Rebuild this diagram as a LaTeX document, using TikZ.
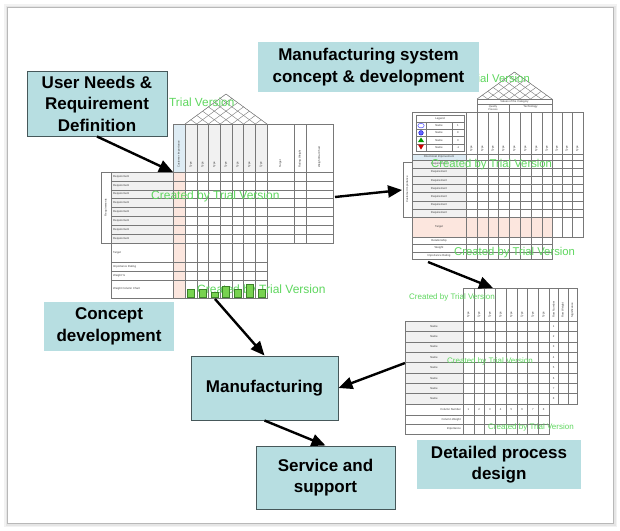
\documentclass[tikz,border=0pt]{standalone}
\usepackage{fontspec}
\setmainfont{Liberation Sans}
\usetikzlibrary{arrows.meta}

\definecolor{boxblue}{RGB}{183,222,225}
\definecolor{boxedge}{RGB}{70,88,90}
\definecolor{trialgreen}{RGB}{95,215,95}
\definecolor{pinkcell}{RGB}{252,230,222}
\definecolor{graycell}{RGB}{241,241,241}
\definecolor{headblue}{RGB}{222,236,244}
\definecolor{gridgray}{RGB}{120,120,120}
\definecolor{bargreen}{RGB}{120,210,80}
\definecolor{bardark}{RGB}{60,130,40}

\begin{document}
\begin{tikzpicture}[%
      x=1pt, y=-1pt,
      stage/.style={fill=boxblue, align=center, inner sep=0pt,
        font=\bfseries\fontsize{17}{21.5}\selectfont},
      stageedge/.style={stage, draw=boxedge, line width=1pt},
      flow/.style={-{Triangle[length=14pt,width=12pt]}, line width=2.4pt},
      cell/.style={draw=gridgray, line width=0.4pt},
      tiny/.style={inner sep=0pt, text=black!75, font=\fontsize{2.8}{3.2}\selectfont},
      vtiny/.style={tiny, rotate=90, anchor=west},
      trial/.style={inner sep=0pt, text=trialgreen},
      ]
      \useasboundingbox (0,0) rectangle (620,530);

      \fill [color=black!5] (4,4) rectangle (617,527);
      \fill [color=black!10] (5.5,5.5) rectangle (615.5,525.5);
      \filldraw [fill=white, draw=black!28, line width=0.6pt] (7,7) rectangle (613,523);

      % first house
      \begin{scope}
        \clip (185,124) -- (226,94) -- (267,124) -- cycle;
        \foreach \i in {0,...,7} {
          \draw [cell] ({185+\i*11.714},124) -- ++(82,-60);
          \draw [cell] ({185+\i*11.714},124) -- ++(-82,-60);
        }
      \end{scope}
      \draw [cell] (185,124) -- (226,94) -- (267,124);

      \fill [color=headblue] (173,124) rectangle (185,172);
      \fill [color=graycell] (185,124) rectangle (267,172);
      \fill [color=graycell] (111,172) rectangle (173,243);
      \fill [color=pinkcell] (173,172) rectangle (185,298);
      \draw [cell] (173,124) rectangle (333,172);
      \draw [cell] (101,172) rectangle (111,243);
      \draw [cell] (111,172) rectangle (333,243);
      \draw [cell] (111,243) rectangle (267,298);
      \foreach \i in {1,...,7}
        \draw [cell] (111,{172+\i*8.875}) -- (333,{172+\i*8.875});
      \foreach \y in {262,271,280}
        \draw [cell] (111,\y) -- (267,\y);
      \draw [cell] (173,124) -- (173,298);
      \foreach \i in {0,...,7}
        \draw [cell] ({185+\i*11.714},124) -- ({185+\i*11.714},298);
      \foreach \x in {294,306}
        \draw [cell] (\x,124) -- (\x,243);

      \node [vtiny] (m1imp) at (179,168) {Customer Importance};
      \foreach \i in {0,...,6}
        \node [vtiny] (m1type\i) at ({190.9+\i*11.714},168) {Type};
      \node [vtiny] (m1tgt) at (280.5,168) {Target};
      \node [vtiny] (m1rw) at (300,168) {Rating Weight};
      \node [vtiny] (m1wbc) at (319.5,168) {Weight Bar Chart};
      \node [tiny, rotate=90] (m1grp) at (106,207.5) {Requirements};
      \foreach \i in {0,...,7}
        \node [tiny, anchor=west] (m1req\i) at (113,{176.4+\i*8.875}) {Requirement};
      \node [tiny, anchor=west] (m1target) at (113,252.5) {Target};
      \node [tiny, anchor=west] (m1rating) at (113,266.5) {Importance Rating};
      \node [tiny, anchor=west] (m1weight) at (113,275.5) {Weight \%};
      \node [tiny, anchor=west] (m1chart) at (113,289) {Weight Column Chart};

      \node [trial, anchor=west, font=\fontsize{11.8}{14}\selectfont] (m1trial) at (169,102) {Trial Version};
      \node [trial, anchor=west, font=\fontsize{12}{14}\selectfont] (m1wm) at (151,196) {Created by Trial Version};
      \node [trial, anchor=west, font=\fontsize{12}{14}\selectfont] (m1wm2) at (197,290) {Created by Trial Version};

      \foreach \i/\t in {0/289,1/289,2/292,3/286,4/289,5/284,6/289}
        \filldraw [fill=bargreen, draw=bardark, line width=0.3pt]
          ({187.5+\i*11.714},\t) rectangle ({194.5+\i*11.714},297);

      \coordinate (m1nw) at (173,172);
      \coordinate (m1e) at (335,197);
      \coordinate (m1s) at (215,299);

      % second house
      \begin{scope}
        \clip (477,99) -- (514.5,72) -- (552,99) -- cycle;
        \foreach \i in {0,...,7} {
          \draw [cell] ({477+\i*10.714},99) -- ++(75,-54);
          \draw [cell] ({477+\i*10.714},99) -- ++(-75,-54);
        }
      \end{scope}
      \draw [cell] (477,99) -- (514.5,72) -- (552,99);
      \draw [cell] (477,99) rectangle (552,104);
      \draw [cell] (477,104) rectangle (509,112);
      \draw [cell] (509,104) rectangle (552,112);
      \node [tiny] (m2cat) at (514.5,101.5) {Values of the Category};
      \node [tiny, align=center, font=\fontsize{2.6}{2.8}\selectfont] (m2qp) at (493,108) {Quality\\Process};
      \node [tiny] (m2tech) at (530.5,106.5) {Technology};

      \fill [color=headblue] (412,154) rectangle (466,160);
      \fill [color=graycell] (412,160) rectangle (466,217);
      \fill [color=pinkcell] (412,217) rectangle (552,237);
      \draw [cell] (412,112) rectangle (583,237);
      \draw [cell] (412,237) rectangle (552,259);
      \draw [cell] (403,162) rectangle (412,217);
      \foreach \x in {466,477,488,498,509,520,531,542,552}
        \draw [cell] (\x,112) -- (\x,259);
      \foreach \x in {562,572}
        \draw [cell] (\x,112) -- (\x,237);
      \draw [cell] (412,154) -- (583,154);
      \foreach \i in {0,...,7}
        \draw [cell] (412,{160+\i*8.143}) -- (583,{160+\i*8.143});
      \foreach \y in {244,252}
        \draw [cell] (412,\y) -- (552,\y);

      \draw [cell] (416,115) rectangle (464,151);
      \foreach \y in {122,129.25,136.5,143.75}
        \draw [cell] (416,\y) -- (464,\y);
      \draw [cell] (426,122) -- (426,151);
      \draw [cell] (452,122) -- (452,151);
      \node [tiny] (m2leg) at (440,118.5) {Legend};
      \foreach \i/\v in {0/1,1/9,2/3,3/-1} {
        \node [tiny] (m2name\i) at (439,{125.6+\i*7.25}) {Name};
        \node [tiny] (m2val\i) at (458,{125.6+\i*7.25}) {\v};
      }
      \draw [color=blue!70, line width=0.5pt] (421,125.6) ellipse (3.2pt and 2.3pt);
      \filldraw [fill=blue!60, draw=blue!80!black, line width=0.4pt] (421,132.85) circle (2.3pt);
      \fill [color=green!60!black] (418,142) -- (421,137.5) -- (424,142) -- cycle;
      \fill [color=red!80!black] (418,144.6) -- (424,144.6) -- (421,149.6) -- cycle;

      \foreach \x [count=\i] in {471.5,482.5,493,503.5,514.5,525.5,536.5,547,557,567,577.5}
        \node [vtiny] (m2type\i) at (\x,152) {Type};
      \node [tiny] (m2dir) at (439,157) {Directional Improvement};
      \foreach \i in {0,...,6}
        \node [tiny] (m2req\i) at (439,{164.07+\i*8.143}) {Requirement};
      \node [tiny] (m2tgt) at (439,227) {Target};
      \node [tiny] (m2rel) at (439,240.5) {Relationship};
      \node [tiny] (m2wt) at (439,248) {Weight};
      \node [tiny] (m2imp) at (439,255.5) {Importance Rating};
      \node [tiny, rotate=90] (m2ci) at (407.5,189.5) {Customer Importance};

      \node [trial, anchor=east, font=\fontsize{11.3}{13}\selectfont] (m2trial) at (530,78) {Trial Version};
      \node [trial, anchor=west, font=\fontsize{11.3}{13}\selectfont] (m2wm) at (431,165) {Created by Trial Version};
      \node [trial, anchor=west, font=\fontsize{11.3}{13}\selectfont] (m2wm2) at (454,253) {Created by Trial Version};

      \coordinate (m2w) at (402,190);
      \coordinate (m2s) at (428,262);

      % third matrix
      \fill [color=graycell] (405,321) rectangle (463,404);
      \draw [cell] (463,288) rectangle (577,321);
      \draw [cell] (405,321) rectangle (577,404);
      \draw [cell] (405,404) rectangle (549,434);
      \foreach \i in {1,...,7}
        \draw [cell] ({463+\i*10.75},288) -- ({463+\i*10.75},434);
      \draw [cell] (463,321) -- (463,434);
      \foreach \x in {549,558.3,567.7}
        \draw [cell] (\x,288) -- (\x,404);
      \foreach \i in {1,...,7}
        \draw [cell] (405,{321+\i*10.375}) -- (577,{321+\i*10.375});
      \foreach \y in {415,424}
        \draw [cell] (405,\y) -- (549,\y);

      \foreach \i [count=\n] in {0,...,7} {
        \node [tiny] (m3name\i) at (434,{326.2+\i*10.375}) {Name};
        \node [tiny] (m3row\i) at (553.6,{326.2+\i*10.375}) {\n};
        \node [vtiny] (m3type\i) at ({468.4+\i*10.75},318) {Type};
        \node [tiny] (m3col\i) at ({468.4+\i*10.75},409.5) {\n};
      }
      \node [vtiny] (m3rn) at (553.6,318) {Row Number};
      \node [vtiny] (m3rw) at (563,318) {Row Weight};
      \node [vtiny] (m3sig) at (572.3,318) {Significance};
      \node [tiny, anchor=east] (m3cn) at (461,409.5) {Column Number};
      \node [tiny, anchor=east] (m3cw) at (461,419.5) {Column Weight};
      \node [tiny, anchor=east] (m3im) at (461,429) {Importance};

      \node [trial, anchor=west, font=\fontsize{8}{10}\selectfont] (m3wm) at (409,297) {Created by Trial Version};
      \node [trial, anchor=west, font=\fontsize{8}{10}\selectfont] (m3wm2) at (447,361) {Created by Trial Version};
      \node [trial, anchor=west, font=\fontsize{8}{10}\selectfont] (m3wm3) at (488,427) {Created by Trial Version};

      \coordinate (m3n) at (493,288);
      \coordinate (m3w) at (405,363);

      % stages
      \node [stageedge, minimum width=140pt, minimum height=65pt] (user) at (97,103.5) {User Needs \&\\Requirement\\Definition};
      \node [stage, minimum width=221pt, minimum height=50pt] (mfgsys) at (368.5,67) {Manufacturing system\\concept \& development};
      \node [stage, minimum width=130pt, minimum height=49pt] (concept) at (109,326.5) {Concept\\development};
      \node [stageedge, minimum width=147pt, minimum height=64pt] (mfg) at (264.5,388) {Manufacturing};
      \node [stageedge, minimum width=139pt, minimum height=63pt] (service) at (325.5,477.5) {Service and\\support};
      \node [stage, minimum width=164pt, minimum height=49pt] (detail) at (499,464.5) {Detailed process\\design};

      \draw [flow] (user.south) -- (m1nw);
      \draw [flow] (m1e) -- (m2w);
      \draw [flow] (m2s) -- (m3n);
      \draw [flow] (m1s) -- (mfg.north);
      \draw [flow] (m3w) -- (mfg.east);
      \draw [flow] (mfg.south) -- (service.north);
\end{tikzpicture}
\end{document}
